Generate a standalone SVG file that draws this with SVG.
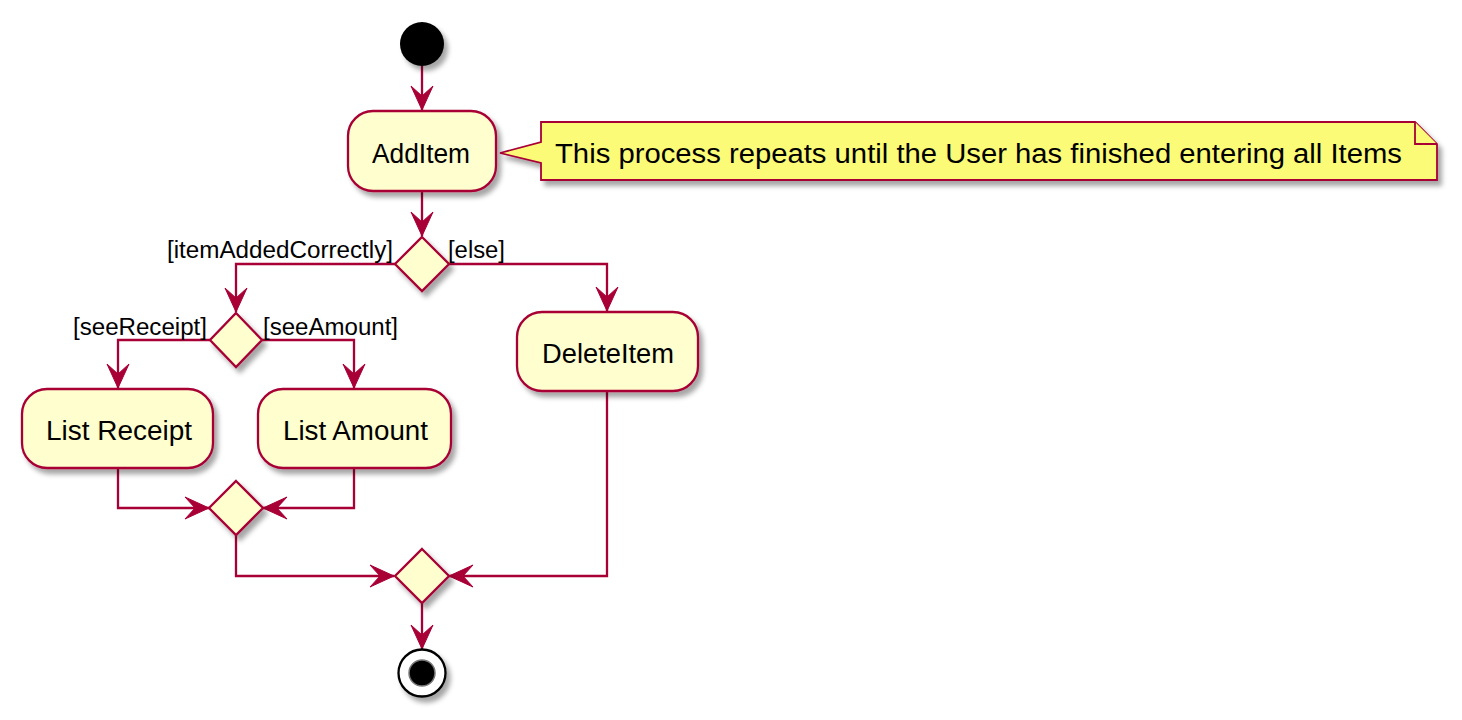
<svg xmlns="http://www.w3.org/2000/svg" width="1462" height="720" viewBox="0 0 1462 720">
<style>
.box{fill:#FEFECE;stroke:#A80036;stroke-width:2.3}
.note{fill:#FBFB77;stroke:#A80036;stroke-width:1.8}
.edge{fill:none;stroke:#A80036;stroke-width:2.3}
.t{font-family:"Liberation Sans",Arial,sans-serif;fill:#000}
.big{font-size:27px}
.lbl{font-size:23px}
</style>
<defs>
<filter id="sh" x="-20%" y="-20%" width="150%" height="160%">
<feGaussianBlur in="SourceAlpha" stdDeviation="2.5"/>
<feOffset dx="4" dy="5" result="b"/>
<feFlood flood-color="#000" flood-opacity="0.35"/>
<feComposite in2="b" operator="in"/>
<feMerge><feMergeNode/><feMergeNode in="SourceGraphic"/></feMerge>
</filter>
<marker id="arr" viewBox="-26 -13 28 26" refX="0" refY="0" markerWidth="28" markerHeight="26" markerUnits="userSpaceOnUse" orient="auto">
<path d="M0,0 L-24,-11 L-14,0 L-24,11 Z" fill="#A80036" stroke="#A80036" stroke-width="1"/>
</marker>
</defs>
<rect width="1462" height="720" fill="#fff"/>
<g id="connectors">
<path class="edge" d="M422,66 V110" marker-end="url(#arr)"/>
<path class="edge" d="M422,191 V236" marker-end="url(#arr)"/>
<path class="edge" d="M395,264 H236 V312" marker-end="url(#arr)"/>
<path class="edge" d="M449,264 H607 V311" marker-end="url(#arr)"/>
<path class="edge" d="M210,340 H118 V388" marker-end="url(#arr)"/>
<path class="edge" d="M262,340 H354 V388" marker-end="url(#arr)"/>
<path class="edge" d="M118,468 V508 H209" marker-end="url(#arr)"/>
<path class="edge" d="M354,468 V508 H263" marker-end="url(#arr)"/>
<path class="edge" d="M236,535 V576 H394" marker-end="url(#arr)"/>
<path class="edge" d="M607,391 V576 H449" marker-end="url(#arr)"/>
<path class="edge" d="M422,603 V649" marker-end="url(#arr)"/>
</g>
<g id="start" filter="url(#sh)">
<circle cx="422" cy="44" r="22" fill="#000"/>
</g>
<g id="addItem">
<rect class="box" x="348" y="111" width="148" height="80" rx="25" filter="url(#sh)"/>
<text class="t big" x="372" y="163" textLength="98" lengthAdjust="spacingAndGlyphs">AddItem</text>
</g>
<g id="note">
<path class="note" filter="url(#sh)" d="M541,122 H1415 L1437,144 V180 H541 V163 L500,153 L541,142 Z"/>
<path class="note" d="M1415,122 V144 H1437" fill="none"/>
<text class="t big" x="555" y="163" textLength="847" lengthAdjust="spacingAndGlyphs">This process repeats until the User has finished entering all Items</text>
</g>
<g id="decision1">
<path class="box" filter="url(#sh)" d="M422,237 L449,264 L422,291 L395,264 Z"/>
<text class="t lbl" x="167" y="258" textLength="226" lengthAdjust="spacingAndGlyphs">[itemAddedCorrectly]</text>
<text class="t lbl" x="448" y="258" textLength="57" lengthAdjust="spacingAndGlyphs">[else]</text>
</g>
<g id="decision2">
<path class="box" filter="url(#sh)" d="M236,313 L262,340 L236,367 L210,340 Z"/>
<text class="t lbl" x="73" y="335" textLength="134" lengthAdjust="spacingAndGlyphs">[seeReceipt]</text>
<text class="t lbl" x="263" y="335" textLength="135" lengthAdjust="spacingAndGlyphs">[seeAmount]</text>
</g>
<g id="deleteItem">
<rect class="box" x="517" y="312" width="181" height="79" rx="25" filter="url(#sh)"/>
<text class="t big" x="542" y="363" textLength="132" lengthAdjust="spacingAndGlyphs">DeleteItem</text>
</g>
<g id="listReceipt">
<rect class="box" x="22" y="389" width="191" height="79" rx="25" filter="url(#sh)"/>
<text class="t big" x="46" y="440" textLength="146" lengthAdjust="spacingAndGlyphs">List Receipt</text>
</g>
<g id="listAmount">
<rect class="box" x="258" y="389" width="193" height="79" rx="25" filter="url(#sh)"/>
<text class="t big" x="283" y="440" textLength="145" lengthAdjust="spacingAndGlyphs">List Amount</text>
</g>
<g id="merge1">
<path class="box" filter="url(#sh)" d="M236,481 L263,508 L236,535 L209,508 Z"/>
</g>
<g id="merge2">
<path class="box" filter="url(#sh)" d="M422,549 L449,576 L422,603 L395,576 Z"/>
</g>
<g id="end" filter="url(#sh)">
<circle cx="422" cy="673" r="23.5" fill="#fff" stroke="#000" stroke-width="2.3"/>
<circle cx="422" cy="673" r="13" fill="#000" stroke="#777" stroke-width="1.5"/>
</g>
</svg>
